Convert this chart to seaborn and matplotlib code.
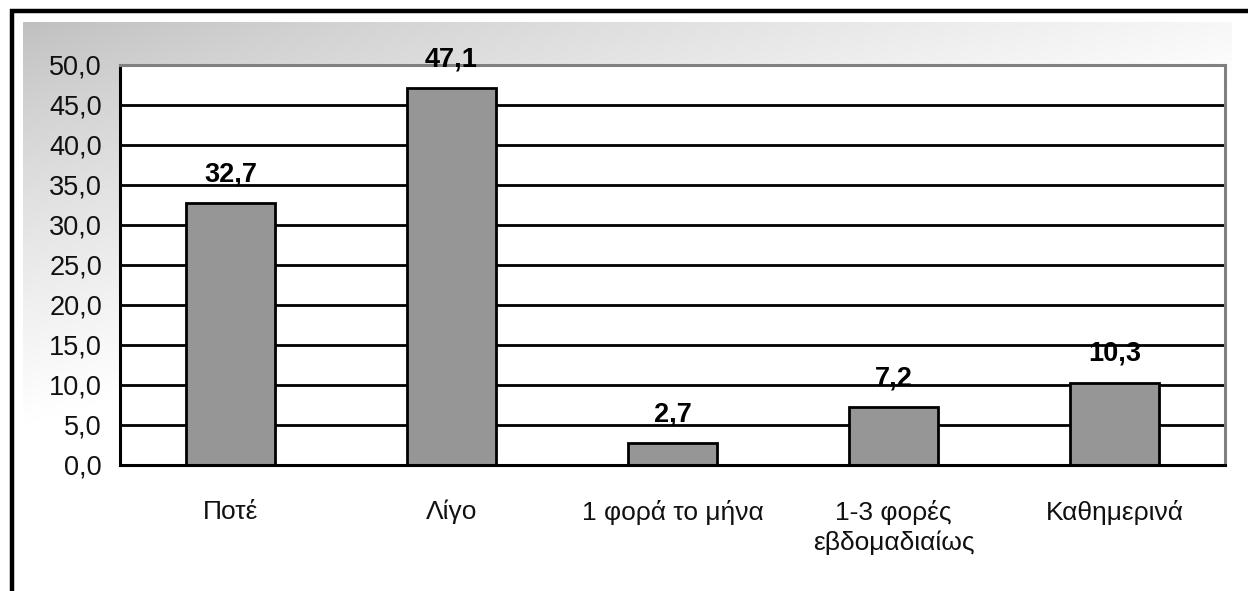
import numpy as np
import matplotlib
matplotlib.use("Agg")
import matplotlib.pyplot as plt
import seaborn as sns
import pandas as pd

categories = ["Ποτέ", "Λίγο", "1 φορά το μήνα", "1-3 φορές\nεβδομαδιαίως", "Καθημερινά"]
values = [32.7, 47.1, 2.7, 7.2, 10.3]
value_labels = ["32,7", "47,1", "2,7", "7,2", "10,3"]
ytick_values = [0, 5, 10, 15, 20, 25, 30, 35, 40, 45, 50]
ytick_labels = ["0,0", "5,0", "10,0", "15,0", "20,0", "25,0", "30,0", "35,0", "40,0", "45,0", "50,0"]

sns.set_theme(style="white")
plt.rcParams["font.family"] = ["Liberation Sans", "DejaVu Sans"]

W, H = 1248, 591
fig = plt.figure(figsize=(W / 100, H / 100), dpi=100)
fig.patch.set_facecolor("white")

# chart-area background: diagonal grey-to-white gradient
bg = fig.add_axes([23 / W, 1 - 562 / H, (1232 - 23) / W, (562 - 22) / H])
nx, ny = 300, 150
gx = np.linspace(0, 1, nx)[None, :]
gy = np.linspace(0, 1, ny)[:, None]
t = np.clip(0.85 * gx + 1.35 * gy, 0, 1) ** 0.8
shade = 0.75 + 0.25 * t
img = np.dstack([shade, shade, shade])
bg.imshow(img, aspect="auto", extent=[0, 1, 0, 1], interpolation="bilinear")
bg.set_axis_off()

# outer frame lines (top and left)
frame = fig.add_axes([0, 0, 1, 1], facecolor="none")
frame.set_xlim(0, W)
frame.set_ylim(H, 0)
frame.plot([10, W], [10.5, 10.5], color="black", lw=3.2, solid_capstyle="butt")
frame.plot([11.5, 11.5], [9, H], color="black", lw=3.2, solid_capstyle="butt")
frame.set_axis_off()

ax = fig.add_axes([120 / W, 1 - 465 / H, (1225 - 120) / W, (465 - 65) / H])
ax.set_facecolor("white")
df = pd.DataFrame({"cat": categories, "val": values})
sns.barplot(data=df, x="cat", y="val", color="#969696", width=0.4,
            edgecolor="black", linewidth=2, saturation=1, ax=ax, zorder=3)

ax.set_ylim(0, 50)
ax.set_xlim(-0.5, len(categories) - 0.5)
ax.set_yticks(ytick_values)
ax.set_yticklabels(ytick_labels, fontsize=19.5, color="#111111")
ax.yaxis.grid(True, color="black", linewidth=2, zorder=0)
ax.set_axisbelow(True)

ax.set_xticks(range(len(categories)))
ax.set_xticklabels(categories, fontsize=19, color="#111111", linespacing=1.3,
                   va="top")
ax.set_xticks(np.arange(-0.5, len(categories), 1.0), minor=True)
ax.tick_params(axis="x", which="major", length=0, pad=25)
ax.tick_params(axis="x", which="minor", length=9, width=2, color="black",
               direction="out")
ax.tick_params(axis="y", length=8, width=2, color="black", direction="out", pad=5)
ax.set_xlabel("")
ax.set_ylabel("")

for side in ("left", "bottom"):
    ax.spines[side].set_color("black")
    ax.spines[side].set_linewidth(2.2)
for side in ("top", "right"):
    ax.spines[side].set_color("#808080")
    ax.spines[side].set_linewidth(2.2)
ax.spines["bottom"].set_zorder(5)

for i, (v, lab) in enumerate(zip(values, value_labels)):
    ax.annotate(lab, (i, v), xytext=(0, 16), textcoords="offset pixels",
                ha="center", va="bottom", fontsize=19.5, fontweight="bold",
                color="black", zorder=6, annotation_clip=False)

fig.savefig("out.png", dpi=100)
